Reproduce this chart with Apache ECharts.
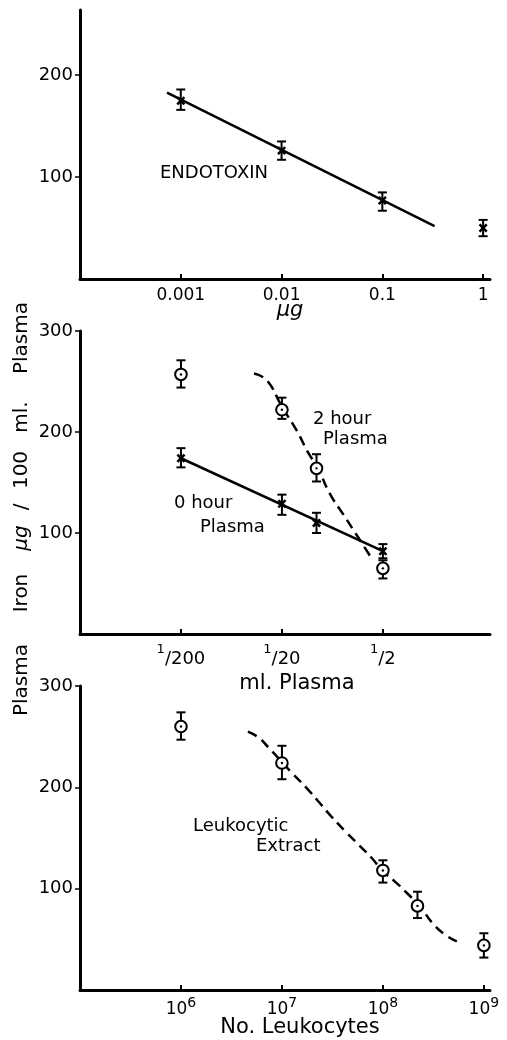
<!DOCTYPE html>
<html><head><meta charset="utf-8">
<script src="https://cdn.jsdelivr.net/npm/echarts@6/dist/echarts.min.js"></script>
<style>html,body{margin:0;padding:0;background:#fff}#c{width:507px;height:1040px}</style>
</head><body><div id="c"></div>
<script>
// ---- Panel A: Endotoxin (µg) ----
const endoDose = [0.001, 0.01, 0.1, 1];
const endoIron = [175, 126, 77, 50];
const endoLow = [166, 117, 67, 42];
const endoHigh = [186, 135, 85, 58];
const endoFitDose = [0.00073, 0.33];
const endoFitIron = [183, 52];
const endoTicks = [0.001, 0.01, 0.1, 1];
const endoTickLabels = ['0.001', '0.01', '0.1', '1'];

// ---- Panel B: ml. Plasma ----
const plasmaVol = [1 / 200, 1 / 20, 0.11, 1 / 2];
const hour0Iron = [174, 129, 110, 82];
const hour0Low = [165, 118, 100, 75];
const hour0High = [184, 138, 120, 89];
const hour0FitVol = [1 / 200, 1 / 2];
const hour0FitIron = [174, 82];
const hour2Iron = [257, 222, 164, 65];
const hour2Low = [244, 213, 151, 55];
const hour2High = [271, 234, 178, 73];
const hour2CurveVol = [0.0264, 0.0355, 0.05, 0.0704, 0.0904, 0.1136, 0.149, 0.201, 0.283, 0.398];
const hour2CurveIron = [258, 251, 225, 201, 180, 164, 139, 119, 96, 73];
const volTicks = [1 / 200, 1 / 20, 1 / 2];
const volTickDenoms = ['200', '20', '2'];

// ---- Panel C: No. Leukocytes ----
const leukoCount = [1e6, 1e7, 1e8, 2.2e8, 1e9];
const leukoIron = [260, 224, 118, 83, 44];
const leukoLow = [247, 208, 106, 71, 32];
const leukoHigh = [274, 241, 128, 97, 56];
const leukoCurveCount = [4.6e6, 5.9e6, 7.4e6, 1e7, 1.26e7, 1.73e7, 2.3e7, 3.1e7, 4.3e7, 5.8e7, 7.8e7, 9.8e7, 1.35e8, 1.8e8, 2.4e8, 3.1e8, 4.2e8, 5.4e8];
const leukoCurveIron = [255, 249, 239, 225, 214, 200, 186, 171, 156, 143, 130, 118, 106, 94, 81, 66, 54, 48];
const leukoTicks = [1e6, 1e7, 1e8, 1e9];
const leukoTickExps = ['6', '7', '8', '9'];

const ironTicks = [100, 200, 300];

const FONT = 'DejaVu Sans';
const zip2 = (a, b) => a.map((v, i) => [v, b[i]]);
const zip4 = (a, b, c, d) => a.map((v, i) => [v, b[i], c[i], d[i]]);
const nearestIdx = (ticks, v) => {
  let best = -1, bd = 1e9;
  ticks.forEach((t, i) => { const d = Math.abs(Math.log10(t) - Math.log10(v)); if (d < bd) { bd = d; best = i; } });
  return bd < 0.02 ? best : -1;
};

function errRender(kind) {
  return function (params, api) {
    const p = api.coord([api.value(0), api.value(1)]);
    const lo = api.coord([api.value(0), api.value(2)]);
    const hi = api.coord([api.value(0), api.value(3)]);
    const cap = 4.5;
    const st = { stroke: '#000', lineWidth: 2 };
    const ch = [
      { type: 'line', shape: { x1: p[0], y1: lo[1], x2: p[0], y2: hi[1] }, style: st },
      { type: 'line', shape: { x1: p[0] - cap, y1: lo[1], x2: p[0] + cap, y2: lo[1] }, style: st },
      { type: 'line', shape: { x1: p[0] - cap, y1: hi[1], x2: p[0] + cap, y2: hi[1] }, style: st }
    ];
    if (kind === 'circle') {
      ch.push({ type: 'circle', shape: { cx: p[0], cy: p[1], r: 5.8 }, style: { fill: '#fff', stroke: '#000', lineWidth: 2 } });
      ch.push({ type: 'circle', shape: { cx: p[0], cy: p[1], r: 1.2 }, style: { fill: '#000' } });
    } else {
      const s = 3.6;
      ch.push({ type: 'line', shape: { x1: p[0] - s, y1: p[1] - s, x2: p[0] + s, y2: p[1] + s }, style: { stroke: '#000', lineWidth: 2.5 } });
      ch.push({ type: 'line', shape: { x1: p[0] - s, y1: p[1] + s, x2: p[0] + s, y2: p[1] - s }, style: { stroke: '#000', lineWidth: 2.5 } });
    }
    return { type: 'group', children: ch };
  };
}

const axisLineStyle = { lineStyle: { color: '#000', width: 3 } };

function makeY(gi, max) {
  return {
    type: 'value', gridIndex: gi, min: 0, max: max,
    axisLine: { show: true, ...axisLineStyle },
    axisTick: { show: true, length: 5, lineStyle: { color: '#000', width: 1.5 }, customValues: ironTicks.filter(t => t <= max) },
    axisLabel: { customValues: ironTicks.filter(t => t <= max), margin: 7, color: '#000', fontSize: 18, fontFamily: FONT },
    splitLine: { show: false }
  };
}

const option = {
  animation: false,
  backgroundColor: '#fff',
  textStyle: { fontFamily: FONT },
  grid: [
    { left: 80, width: 410, top: 10, height: 269 },
    { left: 80, width: 410, top: 331, height: 303 },
    { left: 80, width: 410, top: 686, height: 304 }
  ],
  xAxis: [
    {
      type: 'log', gridIndex: 0, min: 1e-4, max: 1.17, logBase: 10,
      axisLine: { show: true, onZero: false, ...axisLineStyle },
      axisTick: { show: true, inside: true, length: 5, lineStyle: { color: '#000', width: 2 }, customValues: endoTicks },
      axisLabel: {
        customValues: endoTicks, margin: 8, color: '#000', fontSize: 17, fontFamily: FONT,
        formatter: v => { const i = nearestIdx(endoTicks, v); return i < 0 ? '' : endoTickLabels[i]; }
      },
      splitLine: { show: false }, minorTick: { show: false }
    },
    {
      type: 'log', gridIndex: 1, min: 0.0005, max: 5.75, logBase: 10,
      axisLine: { show: true, onZero: false, ...axisLineStyle },
      axisTick: { show: true, inside: true, length: 5, lineStyle: { color: '#000', width: 2 }, customValues: volTicks },
      axisLabel: {
        customValues: volTicks, margin: 9, color: '#000', fontFamily: FONT,
        formatter: v => { const i = nearestIdx(volTicks, v); return i < 0 ? '' : '{s|1}{n|/' + volTickDenoms[i] + '}'; },
        rich: {
          s: { fontSize: 13, fontFamily: FONT, color: '#000', padding: [0, 0, 16, 0] },
          n: { fontSize: 18, fontFamily: FONT, color: '#000', padding: [4, 0, 0, 0] }
        }
      },
      splitLine: { show: false }
    },
    {
      type: 'log', gridIndex: 2, min: 1e5, max: 1.15e9, logBase: 10,
      axisLine: { show: true, onZero: false, ...axisLineStyle },
      axisTick: { show: true, inside: true, length: 5, lineStyle: { color: '#000', width: 2 }, customValues: leukoTicks },
      axisLabel: {
        customValues: leukoTicks, margin: 5, color: '#000', fontFamily: FONT,
        formatter: v => { const i = nearestIdx(leukoTicks, v); return i < 0 ? '' : '{n|10}{s|' + leukoTickExps[i] + '}'; },
        rich: {
          n: { fontSize: 17, fontFamily: FONT, color: '#000', padding: [6, 0, 0, 0] },
          s: { fontSize: 14, fontFamily: FONT, color: '#000', padding: [0, 0, 6, 0] }
        }
      },
      splitLine: { show: false }
    }
  ],
  yAxis: [makeY(0, 264), makeY(1, 300), makeY(2, 300)],
  series: [
    { name: 'Endotoxin fit', type: 'line', xAxisIndex: 0, yAxisIndex: 0, data: zip2(endoFitDose, endoFitIron), symbol: 'none', lineStyle: { color: '#000', width: 2.5 } },
    { name: 'Endotoxin', type: 'custom', xAxisIndex: 0, yAxisIndex: 0, data: zip4(endoDose, endoIron, endoLow, endoHigh), renderItem: errRender('x'), encode: { x: 0, y: 1 }, z: 5 },

    { name: '0 hour fit', type: 'line', xAxisIndex: 1, yAxisIndex: 1, data: zip2(hour0FitVol, hour0FitIron), symbol: 'none', lineStyle: { color: '#000', width: 2.5 } },
    { name: '2 hour curve', type: 'line', xAxisIndex: 1, yAxisIndex: 1, data: zip2(hour2CurveVol, hour2CurveIron), smooth: true, symbol: 'none', lineStyle: { color: '#000', width: 2.5, type: [10, 6] } },
    { name: '0 hour Plasma', type: 'custom', xAxisIndex: 1, yAxisIndex: 1, data: zip4(plasmaVol, hour0Iron, hour0Low, hour0High), renderItem: errRender('x'), encode: { x: 0, y: 1 }, z: 5 },
    { name: '2 hour Plasma', type: 'custom', xAxisIndex: 1, yAxisIndex: 1, data: zip4(plasmaVol, hour2Iron, hour2Low, hour2High), renderItem: errRender('circle'), encode: { x: 0, y: 1 }, z: 6 },

    { name: 'Leukocytic curve', type: 'line', xAxisIndex: 2, yAxisIndex: 2, data: zip2(leukoCurveCount, leukoCurveIron), smooth: true, symbol: 'none', lineStyle: { color: '#000', width: 2.5, type: [10, 6] } },
    { name: 'Leukocytic Extract', type: 'custom', xAxisIndex: 2, yAxisIndex: 2, data: zip4(leukoCount, leukoIron, leukoLow, leukoHigh), renderItem: errRender('circle'), encode: { x: 0, y: 1 }, z: 6 }
  ],
  graphic: []
};

function txt(text, x, y, size, opts) {
  return Object.assign({
    type: 'text', x: x, y: y, silent: true,
    style: Object.assign({ text: text, fill: '#000', font: size + 'px "' + FONT + '"', textAlign: 'left', textVerticalAlign: 'middle' }, (opts && opts.style) || {})
  }, (opts && opts.el) || {});
}
const center = { style: { textAlign: 'center' } };
option.graphic = [
  txt('ENDOTOXIN', 160, 173, 18),
  txt('2 hour', 313, 419, 18),
  txt('Plasma', 323, 439, 18),
  txt('0 hour', 174, 503, 18),
  txt('Plasma', 200, 527, 18),
  txt('Leukocytic', 193, 826, 18),
  txt('Extract', 256, 846, 18),
  { type: 'text', x: 290, y: 311, silent: true, style: { text: 'μg', fill: '#000', font: 'italic 21px "' + FONT + '"', textAlign: 'center', textVerticalAlign: 'middle' } },
  txt('ml. Plasma', 297, 684, 21, center),
  txt('No. Leukocytes', 300, 1028, 21, center)
];
// rotated y-axis title words
const titleWords = ['Plasma', 'Iron', 'μg', '/', '100', 'ml.', 'Plasma'];
const titleCenters = [680, 593, 538, 507, 470, 417, 338];
titleWords.forEach((w, i) => {
  option.graphic.push({
    type: 'text', x: 22, y: titleCenters[i], rotation: Math.PI / 2, silent: true,
    style: { text: w, fill: '#000', font: (w === 'μg' ? 'italic ' : '') + '20px "' + FONT + '"', textAlign: 'center', textVerticalAlign: 'middle' }
  });
});

const chart = echarts.init(document.getElementById('c'), null, { renderer: 'canvas' });
chart.setOption(option);
</script>
</body></html>
